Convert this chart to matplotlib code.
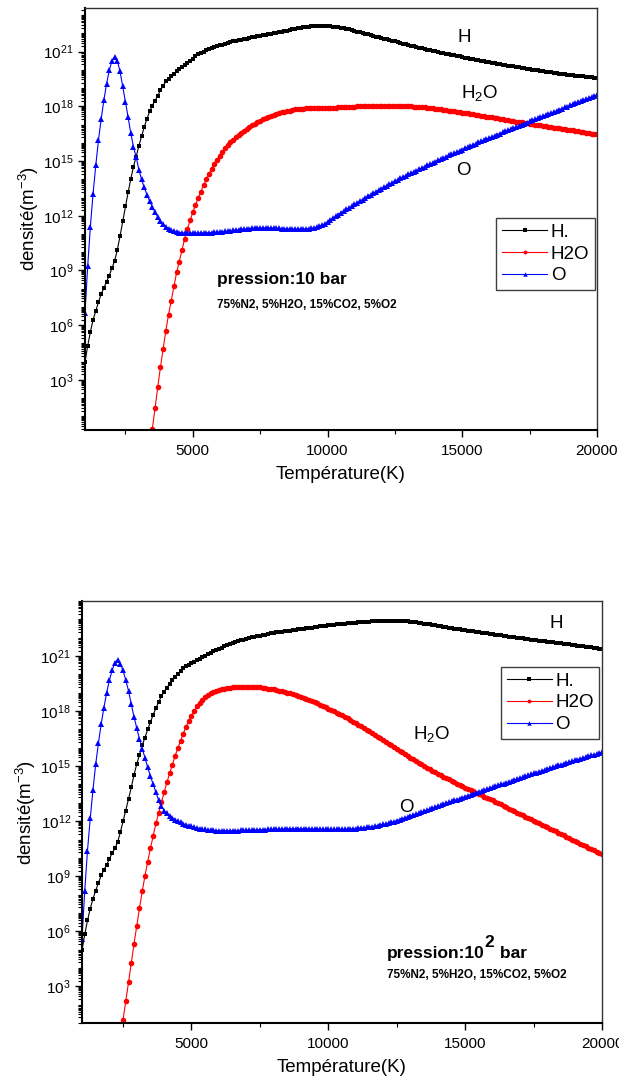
import numpy as np
import matplotlib
matplotlib.use('Agg')
import matplotlib.pyplot as plt
from matplotlib.ticker import FixedLocator, LogLocator, FuncFormatter, NullFormatter

plt.rcParams.update({
    'font.family': 'Liberation Sans',
    'mathtext.fontset': 'custom',
    'mathtext.rm': 'Liberation Sans',
    'mathtext.it': 'Liberation Sans:italic',
    'mathtext.bf': 'Liberation Sans:bold',
})

# temperature grid of the equilibrium calculation (K), 100 K step
temperature = np.arange(1000, 20001, 100)

# ---- 10 bar : log10 of the number density (m^-3) ----
top_h = [
    3.97, 4.86, 5.62, 6.29, 6.78, 7.26, 7.70, 8.03, 8.39, 8.72,
    9.13, 9.53, 10.13, 10.88, 11.69, 12.51, 13.28, 14.01, 14.70, 15.25,
    15.84, 16.35, 16.87, 17.32, 17.72, 18.04, 18.31, 18.59, 18.88, 19.13,
    19.37, 19.52, 19.66, 19.80, 19.93, 20.05, 20.17, 20.28, 20.40, 20.51,
    20.62, 20.74, 20.85, 20.93, 21.00, 21.07, 21.13, 21.19, 21.24, 21.29,
    21.34, 21.39, 21.43, 21.48, 21.52, 21.56, 21.60, 21.63, 21.66, 21.69,
    21.72, 21.75, 21.78, 21.81, 21.84, 21.87, 21.90, 21.93, 21.95, 21.98,
    22.01, 22.04, 22.07, 22.10, 22.13, 22.16, 22.19, 22.22, 22.25, 22.28,
    22.31, 22.34, 22.36, 22.38, 22.40, 22.42, 22.43, 22.43, 22.43, 22.42,
    22.41, 22.39, 22.37, 22.35, 22.33, 22.31, 22.28, 22.26, 22.22, 22.18,
    22.14, 22.10, 22.06, 22.02, 21.98, 21.95, 21.91, 21.87, 21.83, 21.79,
    21.75, 21.71, 21.67, 21.63, 21.60, 21.56, 21.52, 21.48, 21.44, 21.40,
    21.37, 21.33, 21.29, 21.26, 21.22, 21.18, 21.14, 21.11, 21.07, 21.04,
    21.01, 20.98, 20.95, 20.92, 20.89, 20.86, 20.83, 20.80, 20.77, 20.74,
    20.71, 20.68, 20.65, 20.62, 20.60, 20.57, 20.54, 20.51, 20.48, 20.45,
    20.42, 20.39, 20.37, 20.34, 20.32, 20.29, 20.27, 20.24, 20.22, 20.19,
    20.16, 20.14, 20.11, 20.09, 20.06, 20.04, 20.01, 19.99, 19.97, 19.94,
    19.92, 19.90, 19.88, 19.86, 19.84, 19.82, 19.80, 19.78, 19.76, 19.74,
    19.72, 19.70, 19.69, 19.67, 19.65, 19.64, 19.62, 19.60, 19.59, 19.57,
    19.56,
]
# H2O starts at 3300 K (lower values are off scale)
top_h2o = [
    -1.90, -0.80, 0.29, 1.44, 2.60, 3.69, 4.70,
    5.69, 6.57, 7.35, 8.16, 8.89, 9.49, 10.13, 10.75, 11.27, 11.74,
    12.18, 12.59, 12.97, 13.33, 13.67, 14.00, 14.30, 14.58, 14.84, 15.08,
    15.30, 15.50, 15.69, 15.86, 16.02, 16.17, 16.31, 16.44, 16.56, 16.67,
    16.77, 16.87, 16.96, 17.05, 17.13, 17.21, 17.28, 17.35, 17.41, 17.47,
    17.53, 17.58, 17.63, 17.67, 17.71, 17.74, 17.77, 17.80, 17.83, 17.85,
    17.87, 17.88, 17.89, 17.90, 17.91, 17.91, 17.91, 17.91, 17.91, 17.91,
    17.91, 17.91, 17.92, 17.93, 17.94, 17.95, 17.96, 17.97, 17.98, 17.99,
    17.99, 18.00, 18.00, 18.01, 18.01, 18.02, 18.02, 18.03, 18.03, 18.04,
    18.04, 18.04, 18.04, 18.04, 18.04, 18.04, 18.04, 18.03, 18.03, 18.02,
    18.01, 18.00, 17.99, 17.98, 17.97, 17.96, 17.94, 17.93, 17.91, 17.89,
    17.87, 17.85, 17.83, 17.81, 17.79, 17.77, 17.75, 17.73, 17.71, 17.69,
    17.66, 17.64, 17.61, 17.59, 17.56, 17.54, 17.51, 17.49, 17.46, 17.44,
    17.41, 17.39, 17.36, 17.34, 17.31, 17.29, 17.26, 17.24, 17.21, 17.19,
    17.16, 17.14, 17.12, 17.10, 17.07, 17.05, 17.03, 17.00, 16.98, 16.96,
    16.93, 16.91, 16.89, 16.86, 16.84, 16.82, 16.79, 16.77, 16.75, 16.72,
    16.70, 16.68, 16.65, 16.63, 16.61, 16.58, 16.56, 16.54, 16.51, 16.49,
    16.46,
]
top_o = [
    6.67, 9.23, 11.41, 13.21, 14.76, 16.13, 17.31, 18.33, 19.23, 19.97,
    20.51, 20.71, 20.51, 19.92, 19.10, 18.26, 17.39, 16.54, 15.77, 15.22,
    14.52, 14.00, 13.55, 13.15, 12.80, 12.48, 12.18, 11.93, 11.72, 11.54,
    11.40, 11.30, 11.21, 11.15, 11.11, 11.08, 11.06, 11.05, 11.05, 11.05,
    11.05, 11.05, 11.05, 11.05, 11.06, 11.06, 11.07, 11.08, 11.09, 11.10,
    11.11, 11.13, 11.14, 11.16, 11.18, 11.20, 11.22, 11.24, 11.25, 11.27,
    11.28, 11.30, 11.31, 11.32, 11.32, 11.33, 11.33, 11.33, 11.33, 11.33,
    11.32, 11.32, 11.31, 11.30, 11.29, 11.28, 11.28, 11.27, 11.27, 11.27,
    11.27, 11.27, 11.28, 11.29, 11.31, 11.34, 11.38, 11.43, 11.49, 11.56,
    11.66, 11.76, 11.86, 11.96, 12.06, 12.16, 12.26, 12.35, 12.44, 12.53,
    12.62, 12.71, 12.80, 12.89, 12.98, 13.07, 13.15, 13.24, 13.32, 13.41,
    13.49, 13.57, 13.65, 13.73, 13.81, 13.89, 13.97, 14.05, 14.12, 14.20,
    14.27, 14.34, 14.41, 14.48, 14.55, 14.62, 14.69, 14.76, 14.83, 14.90,
    14.97, 15.04, 15.11, 15.17, 15.24, 15.31, 15.37, 15.44, 15.50, 15.57,
    15.63, 15.70, 15.76, 15.83, 15.89, 15.95, 16.02, 16.08, 16.14, 16.20,
    16.26, 16.33, 16.39, 16.45, 16.51, 16.57, 16.63, 16.69, 16.75, 16.81,
    16.87, 16.93, 16.99, 17.05, 17.11, 17.17, 17.23, 17.29, 17.35, 17.41,
    17.47, 17.53, 17.59, 17.65, 17.70, 17.76, 17.82, 17.88, 17.94, 17.99,
    18.05, 18.11, 18.17, 18.23, 18.28, 18.34, 18.40, 18.46, 18.52, 18.58,
    18.64,
]

# ---- 10^2 bar ----
bot_h = [
    4.96, 5.83, 6.59, 7.23, 7.77, 8.22, 8.64, 9.04, 9.35, 9.62,
    9.95, 10.25, 10.52, 10.85, 11.39, 11.99, 12.57, 13.21, 13.84, 14.53,
    15.11, 15.62, 16.14, 16.56, 17.00, 17.40, 17.80, 18.15, 18.50, 18.80,
    19.05, 19.28, 19.48, 19.68, 19.86, 20.02, 20.18, 20.33, 20.44, 20.53,
    20.62, 20.70, 20.78, 20.86, 20.94, 21.02, 21.10, 21.18, 21.25, 21.32,
    21.39, 21.46, 21.52, 21.58, 21.64, 21.70, 21.75, 21.80, 21.85, 21.90,
    21.94, 21.98, 22.02, 22.05, 22.08, 22.11, 22.14, 22.17, 22.20, 22.23,
    22.26, 22.29, 22.31, 22.33, 22.35, 22.37, 22.39, 22.41, 22.43, 22.45,
    22.47, 22.49, 22.51, 22.53, 22.55, 22.57, 22.59, 22.61, 22.63, 22.65,
    22.67, 22.69, 22.71, 22.72, 22.74, 22.75, 22.77, 22.78, 22.80, 22.81,
    22.82, 22.83, 22.84, 22.86, 22.87, 22.88, 22.89, 22.90, 22.91, 22.91,
    22.92, 22.92, 22.93, 22.93, 22.93, 22.92, 22.92, 22.91, 22.90, 22.89,
    22.87, 22.85, 22.83, 22.81, 22.79, 22.77, 22.74, 22.72, 22.69, 22.67,
    22.64, 22.62, 22.59, 22.57, 22.55, 22.52, 22.50, 22.48, 22.45, 22.43,
    22.41, 22.38, 22.36, 22.34, 22.32, 22.29, 22.27, 22.25, 22.23, 22.21,
    22.19, 22.16, 22.14, 22.12, 22.10, 22.08, 22.06, 22.04, 22.02, 22.00,
    21.98, 21.96, 21.94, 21.92, 21.90, 21.88, 21.86, 21.84, 21.82, 21.80,
    21.78, 21.76, 21.75, 21.73, 21.71, 21.69, 21.67, 21.65, 21.63, 21.61,
    21.59, 21.57, 21.55, 21.53, 21.51, 21.49, 21.47, 21.45, 21.43, 21.41,
    21.40,
]
# H2O starts at 2300 K
bot_h2o = [
    -0.90, 0.15, 1.19, 2.20, 3.22, 4.27, 5.32,
    6.30, 7.26, 8.18, 9.02, 9.80, 10.52, 11.21, 11.88, 12.46, 13.02,
    13.57, 14.11, 14.60, 15.07, 15.55, 15.98, 16.38, 16.77, 17.14, 17.47,
    17.74, 18.01, 18.25, 18.46, 18.63, 18.77, 18.88, 18.97, 19.04, 19.10,
    19.15, 19.19, 19.22, 19.25, 19.27, 19.29, 19.30, 19.31, 19.31, 19.32,
    19.32, 19.32, 19.31, 19.31, 19.30, 19.29, 19.27, 19.25, 19.23, 19.21,
    19.18, 19.15, 19.12, 19.09, 19.05, 19.01, 18.97, 18.92, 18.87, 18.82,
    18.77, 18.72, 18.66, 18.60, 18.54, 18.48, 18.42, 18.35, 18.28, 18.21,
    18.14, 18.07, 18.00, 17.92, 17.84, 17.76, 17.68, 17.60, 17.52, 17.43,
    17.35, 17.26, 17.17, 17.08, 16.99, 16.90, 16.80, 16.71, 16.61, 16.52,
    16.42, 16.33, 16.23, 16.13, 16.04, 15.94, 15.84, 15.75, 15.65, 15.56,
    15.46, 15.37, 15.27, 15.18, 15.09, 15.00, 14.91, 14.83, 14.75, 14.67,
    14.59, 14.51, 14.43, 14.35, 14.28, 14.20, 14.13, 14.05, 13.98, 13.91,
    13.83, 13.76, 13.69, 13.62, 13.55, 13.48, 13.41, 13.34, 13.27, 13.20,
    13.13, 13.06, 12.98, 12.91, 12.84, 12.77, 12.69, 12.62, 12.55, 12.47,
    12.40, 12.33, 12.25, 12.18, 12.11, 12.03, 11.96, 11.89, 11.81, 11.74,
    11.67, 11.59, 11.52, 11.44, 11.37, 11.30, 11.22, 11.15, 11.08, 11.00,
    10.93, 10.86, 10.78, 10.71, 10.63, 10.56, 10.49, 10.41, 10.34, 10.27,
    10.19,
]
bot_o = [
    5.59, 8.22, 10.40, 12.15, 13.71, 15.11, 16.25, 17.29, 18.19, 19.00,
    19.68, 20.22, 20.64, 20.77, 20.55, 20.22, 19.68, 19.10, 18.37, 17.68,
    17.07, 16.47, 15.93, 15.47, 14.93, 14.44, 14.02, 13.57, 13.15, 12.84,
    12.57, 12.42, 12.30, 12.19, 12.09, 12.00, 11.93, 11.86, 11.81, 11.76,
    11.71, 11.67, 11.63, 11.60, 11.57, 11.55, 11.53, 11.51, 11.50, 11.49,
    11.48, 11.48, 11.48, 11.48, 11.48, 11.48, 11.49, 11.49, 11.50, 11.50,
    11.51, 11.51, 11.52, 11.52, 11.53, 11.53, 11.54, 11.54, 11.55, 11.55,
    11.56, 11.56, 11.57, 11.57, 11.57, 11.58, 11.58, 11.58, 11.58, 11.58,
    11.58, 11.58, 11.58, 11.58, 11.57, 11.57, 11.57, 11.56, 11.56, 11.55,
    11.55, 11.55, 11.55, 11.55, 11.55, 11.56, 11.56, 11.57, 11.58, 11.59,
    11.60, 11.61, 11.63, 11.64, 11.66, 11.68, 11.70, 11.73, 11.76, 11.79,
    11.82, 11.86, 11.90, 11.94, 11.98, 12.03, 12.08, 12.13, 12.18, 12.23,
    12.28, 12.33, 12.38, 12.44, 12.49, 12.54, 12.60, 12.65, 12.70, 12.76,
    12.81, 12.86, 12.92, 12.97, 13.02, 13.08, 13.13, 13.18, 13.23, 13.29,
    13.34, 13.39, 13.44, 13.50, 13.55, 13.60, 13.65, 13.70, 13.75, 13.80,
    13.85, 13.90, 13.95, 14.00, 14.05, 14.10, 14.15, 14.20, 14.25, 14.30,
    14.35, 14.40, 14.45, 14.50, 14.55, 14.60, 14.65, 14.70, 14.75, 14.80,
    14.85, 14.90, 14.94, 14.99, 15.04, 15.08, 15.13, 15.18, 15.22, 15.27,
    15.31, 15.36, 15.40, 15.45, 15.49, 15.54, 15.58, 15.62, 15.67, 15.71,
    15.75,
]

legend_labels = ['H.', 'H2O', 'O']
y_tick_exponents = [3, 6, 9, 12, 15, 18, 21]
x_major = [5000, 10000, 15000, 20000]
x_minor = [2500, 7500, 12500, 17500]


def draw_panel(ax, h, h2o, o, ylog, legend_anchor):
    t_h2o = temperature[-len(h2o):]
    ax.plot(temperature, 10.0 ** np.array(h), color='black', lw=0.8,
            marker='s', ms=3.5, mew=0, label=legend_labels[0])
    ax.plot(t_h2o, 10.0 ** np.array(h2o), color='red', lw=0.8,
            marker='o', ms=4.0, mew=0, label=legend_labels[1])
    ax.plot(temperature, 10.0 ** np.array(o), color='blue', lw=0.8,
            marker='^', ms=4.6, mew=0, label=legend_labels[2])

    ax.set_yscale('log')
    ax.set_xlim(1000, 20000)
    ax.set_ylim(10.0 ** ylog[0], 10.0 ** ylog[1])

    ax.xaxis.set_major_locator(FixedLocator(x_major))
    ax.xaxis.set_minor_locator(FixedLocator(x_minor))
    ax.yaxis.set_major_locator(FixedLocator([10.0 ** e for e in y_tick_exponents]))
    ax.yaxis.set_major_formatter(
        FuncFormatter(lambda v, p: r'$10^{%d}$' % round(np.log10(v))))
    ax.yaxis.set_minor_locator(LogLocator(base=10, subs=np.arange(1, 10),
                                          numticks=200))
    ax.yaxis.set_minor_formatter(NullFormatter())
    ax.tick_params(axis='both', which='major', direction='out', length=5,
                   width=1.0, labelsize=11, pad=3)
    ax.tick_params(axis='both', which='minor', direction='out', length=3,
                   width=0.8)
    ax.tick_params(axis='x', which='major', pad=5)

    for side in ('left', 'bottom'):
        ax.spines[side].set_linewidth(1.5)
    for side in ('top', 'right'):
        ax.spines[side].set_linewidth(1.0)
        ax.spines[side].set_color('#333333')

    ax.set_xlabel('Température(K)', fontsize=13.5, labelpad=6)
    ax.set_ylabel(r'densité(m$^{-3}$)', fontsize=13.5, labelpad=2)

    leg = ax.legend(loc='upper right', bbox_to_anchor=legend_anchor,
                    borderaxespad=0, fontsize=13.5, frameon=True,
                    fancybox=False, framealpha=1, edgecolor='#404040',
                    handlelength=2.4, handletextpad=0.2, labelspacing=0.25,
                    borderpad=0.3, markerscale=0.7)
    leg.get_frame().set_linewidth(1.0)


fig = plt.figure(figsize=(6.19, 10.86), dpi=100)
ax1 = fig.add_axes([0.1373, 0.6041, 0.8271, 0.3886])
ax2 = fig.add_axes([0.1325, 0.0580, 0.8401, 0.3886])

draw_panel(ax1, top_h, top_h2o, top_o, (0.25, 23.4), (0.996, 0.502))
draw_panel(ax2, bot_h, bot_h2o, bot_o, (1.0, 24.0), (0.995, 0.844))

# species labels next to the curves
ax1.text(15065, 10 ** 21.77, 'H', fontsize=13.5, ha='center', va='center')
ax1.text(15660, 10 ** 18.75, r'H$_2$O', fontsize=13.5, ha='center', va='center')
ax1.text(15028, 10 ** 14.47, 'O', fontsize=13.5, ha='center', va='center')

ax2.text(18320, 10 ** 22.79, 'H', fontsize=13.5, ha='center', va='center')
ax2.text(13789, 10 ** 16.76, r'H$_2$O', fontsize=13.5, ha='center', va='center')
ax2.text(12839, 10 ** 12.73, 'O', fontsize=13.5, ha='center', va='center')

# conditions
ax1.text(5899, 10 ** 8.49, 'pression:10 bar', fontsize=12.5,
         fontweight='bold', ha='left', va='center')
ax1.text(5899, 10 ** 7.11, '75%N2, 5%H2O, 15%CO2, 5%O2', fontsize=8.5,
         fontweight='bold', ha='left', va='center')

p_txt = ax2.text(12145, 10 ** 4.55, 'pression:10', fontsize=12.5,
                 fontweight='bold', ha='left', va='baseline')
sup_txt = ax2.annotate('2', xy=(1, 0.72), xycoords=p_txt, xytext=(0, 0),
                       textcoords='offset points', fontsize=12.5,
                       fontweight='bold', ha='left', va='bottom')
ax2.annotate(' bar', xy=(1, 0), xycoords=(sup_txt, p_txt), fontsize=12.5,
             fontweight='bold', ha='left', va='bottom')
ax2.text(12145, 10 ** 3.60, '75%N2, 5%H2O, 15%CO2, 5%O2', fontsize=8.5,
         fontweight='bold', ha='left', va='center')

fig.savefig('out.png', dpi=100)
